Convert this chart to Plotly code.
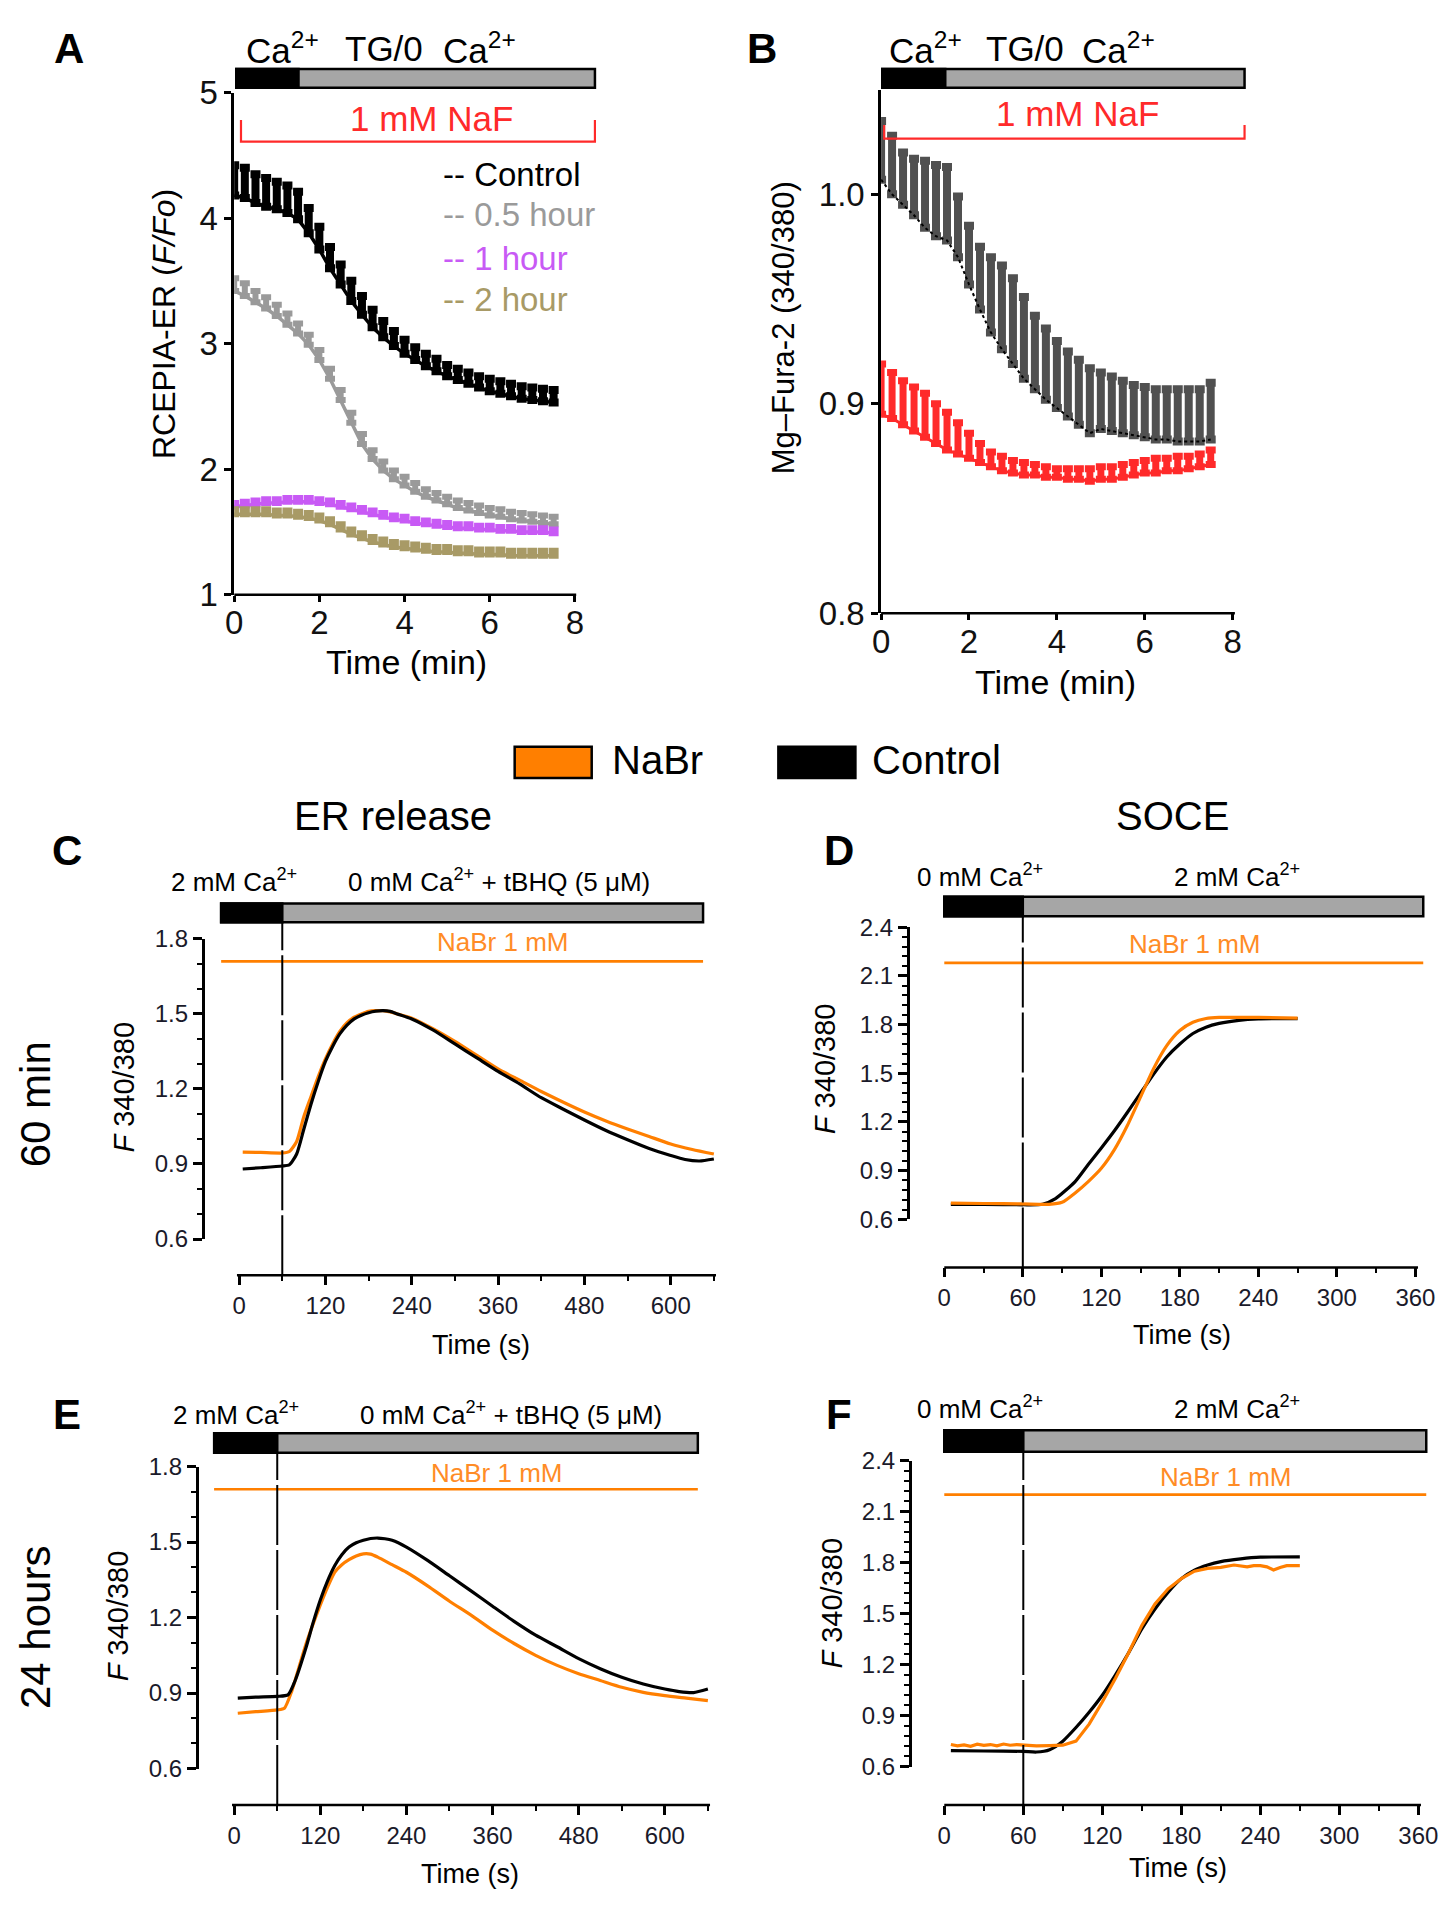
import plotly.graph_objects as go

W, H = 1456, 1920
FONT = "Liberation Sans, Arial, Helvetica, sans-serif"
NARROW = "Liberation Sans Narrow, Arial Narrow, Liberation Sans, Arial, sans-serif"
ORANGE = "#FF7F00"
RED = "#FF2A2A"

# ---------------- Panel A data (min, F/Fo) ----------------
T_A = [0, 0.25, 0.5, 0.75, 1.0, 1.25, 1.5, 1.75, 2.0, 2.25, 2.5, 2.75, 3.0, 3.25, 3.5, 3.75,
       4.0, 4.25, 4.5, 4.75, 5.0, 5.25, 5.5, 5.75, 6.0, 6.25, 6.5, 6.75, 7.0, 7.25, 7.5]
A_CTRL = [4.18, 4.16, 4.12, 4.09, 4.07, 4.04, 3.99, 3.88, 3.75, 3.60, 3.47, 3.34, 3.23, 3.13, 3.05, 2.98,
          2.92, 2.87, 2.82, 2.78, 2.74, 2.71, 2.68, 2.65, 2.62, 2.60, 2.58, 2.56, 2.55, 2.54, 2.53]
A_CTRL_ERR = [0.24, 0.24, 0.23, 0.23, 0.22, 0.22, 0.22, 0.20, 0.18, 0.17, 0.16, 0.16, 0.15, 0.14, 0.13, 0.12,
              0.11, 0.10, 0.10, 0.10, 0.09, 0.09, 0.09, 0.09, 0.10, 0.10, 0.10, 0.10, 0.10, 0.10, 0.10]
A_05H = [3.42, 3.38, 3.33, 3.28, 3.22, 3.15, 3.08, 2.99, 2.87, 2.72, 2.55, 2.37, 2.20, 2.08, 1.99, 1.92,
         1.87, 1.82, 1.78, 1.75, 1.72, 1.69, 1.67, 1.65, 1.63, 1.62, 1.60, 1.59, 1.58, 1.57, 1.56]
A_05H_ERR = [0.10, 0.10, 0.09, 0.09, 0.09, 0.09, 0.08, 0.08, 0.08, 0.08, 0.08, 0.08, 0.08, 0.07, 0.07, 0.07,
             0.07, 0.07, 0.06, 0.06, 0.06, 0.06, 0.06, 0.06, 0.06, 0.06, 0.06, 0.06, 0.06, 0.06, 0.06]
A_1H = [1.70, 1.71, 1.72, 1.73, 1.73, 1.74, 1.74, 1.74, 1.73, 1.72, 1.70, 1.68, 1.66, 1.64, 1.62, 1.60,
        1.59, 1.57, 1.56, 1.55, 1.54, 1.53, 1.53, 1.52, 1.52, 1.51, 1.51, 1.50, 1.50, 1.50, 1.49]
A_1H_ERR = [0.03, 0.03, 0.03, 0.03, 0.03, 0.03, 0.03, 0.03, 0.03, 0.03, 0.03, 0.03, 0.03, 0.03, 0.03, 0.03,
            0.03, 0.03, 0.03, 0.03, 0.03, 0.03, 0.03, 0.03, 0.03, 0.03, 0.03, 0.03, 0.03, 0.03, 0.03]
A_2H = [1.64, 1.64, 1.64, 1.64, 1.63, 1.63, 1.62, 1.61, 1.59, 1.56, 1.52, 1.48, 1.45, 1.42, 1.40, 1.38,
        1.37, 1.36, 1.35, 1.34, 1.34, 1.33, 1.33, 1.32, 1.32, 1.32, 1.31, 1.31, 1.31, 1.31, 1.31]
A_2H_ERR = [0.04, 0.04, 0.04, 0.04, 0.04, 0.04, 0.04, 0.04, 0.04, 0.04, 0.04, 0.04, 0.04, 0.04, 0.04, 0.04,
            0.04, 0.04, 0.04, 0.04, 0.04, 0.04, 0.04, 0.04, 0.04, 0.04, 0.04, 0.04, 0.04, 0.04, 0.04]
A_LEGEND = ["-- Control", "-- 0.5 hour", "-- 1 hour", "-- 2 hour"]
A_COLORS = ["#000000", "#9A9A9A", "#C85AF5", "#A89A66"]

# ---------------- Panel B data (min, ratio) ----------------
T_B = T_A
B_CTRL = [1.007, 1.000, 0.995, 0.990, 0.984, 0.980, 0.978, 0.970, 0.957, 0.945, 0.934, 0.926, 0.919, 0.912,
          0.907, 0.902, 0.898, 0.894, 0.890, 0.886, 0.888, 0.887, 0.886, 0.885, 0.884, 0.883, 0.883, 0.882,
          0.882, 0.882, 0.883]
B_CTRL_ERR = [0.028, 0.028, 0.025, 0.027, 0.032, 0.034, 0.035, 0.029, 0.028, 0.030, 0.036, 0.040, 0.041,
              0.039, 0.035, 0.034, 0.032, 0.031, 0.031, 0.031, 0.027, 0.026, 0.025, 0.024, 0.024, 0.024,
              0.024, 0.025, 0.025, 0.025, 0.027]
B_NAF = [0.895, 0.893, 0.890, 0.887, 0.884, 0.881, 0.878, 0.876, 0.874, 0.872, 0.870, 0.868, 0.867, 0.866,
         0.866, 0.865, 0.865, 0.864, 0.864, 0.863, 0.864, 0.864, 0.865, 0.866, 0.867, 0.867, 0.868, 0.868,
         0.869, 0.870, 0.871]
B_NAF_ERR = [0.024, 0.022, 0.021, 0.021, 0.021, 0.019, 0.018, 0.015, 0.012, 0.009, 0.007, 0.007, 0.006,
             0.006, 0.005, 0.005, 0.004, 0.005, 0.005, 0.006, 0.006, 0.006, 0.006, 0.006, 0.006, 0.007,
             0.006, 0.007, 0.006, 0.006, 0.007]

# ---------------- Panel C (60 min, ER release) ----------------
T_C_CTRL = [5, 30, 60, 70, 80, 90, 100, 110, 120, 130, 140, 150, 160, 170, 180, 190, 200, 210, 220, 240,
            270, 300, 330, 360, 390, 420, 450, 480, 510, 540, 570, 600, 620, 640, 660]
C_CTRL = [0.880, 0.885, 0.892, 0.897, 0.940, 1.040, 1.140, 1.230, 1.310, 1.370, 1.420, 1.455, 1.480, 1.495,
          1.505, 1.511, 1.513, 1.510, 1.500, 1.480, 1.435, 1.380, 1.325, 1.270, 1.220, 1.165, 1.120, 1.076,
          1.034, 0.997, 0.962, 0.934, 0.918, 0.912, 0.920]
T_C_NABR = [5, 30, 60, 70, 80, 90, 100, 110, 120, 130, 140, 150, 160, 170, 180, 190, 200, 210, 220, 240,
            270, 300, 330, 360, 390, 420, 450, 480, 510, 540, 570, 600, 630, 660]
C_NABR = [0.947, 0.946, 0.944, 0.950, 0.990, 1.090, 1.170, 1.250, 1.320, 1.380, 1.430, 1.465, 1.487, 1.500,
          1.510, 1.513, 1.513, 1.508, 1.500, 1.483, 1.440, 1.390, 1.335, 1.280, 1.235, 1.190, 1.148, 1.108,
          1.072, 1.040, 1.010, 0.980, 0.958, 0.940]

# ---------------- Panel D (60 min, SOCE) ----------------
T_D_CTRL = [5, 30, 60, 75, 85, 100, 110, 120, 130, 140, 150, 160, 170, 180, 190, 200, 210, 225, 240, 255, 270]
D_CTRL = [0.693, 0.692, 0.690, 0.693, 0.728, 0.833, 0.938, 1.040, 1.146, 1.260, 1.378, 1.495, 1.600, 1.680,
          1.745, 1.784, 1.807, 1.826, 1.835, 1.837, 1.837]
T_D_NABR = [5, 30, 60, 80, 90, 100, 110, 120, 130, 140, 150, 160, 170, 180, 190, 200, 210, 240, 270]
D_NABR = [0.700, 0.698, 0.695, 0.693, 0.705, 0.763, 0.833, 0.915, 1.030, 1.180, 1.355, 1.530, 1.670, 1.763,
          1.814, 1.837, 1.844, 1.844, 1.840]

# ---------------- Panel E (24 h, ER release) ----------------
T_E_CTRL = [5, 30, 60, 75, 85, 100, 110, 120, 130, 140, 150, 160, 170, 180, 190, 200, 210, 220, 240, 270,
            300, 330, 360, 390, 420, 450, 480, 510, 540, 570, 600, 620, 640, 660]
E_CTRL = [0.880, 0.884, 0.887, 0.893, 0.950, 1.080, 1.180, 1.270, 1.345, 1.406, 1.450, 1.480, 1.497, 1.507,
          1.514, 1.516, 1.513, 1.507, 1.480, 1.426, 1.366, 1.306, 1.245, 1.185, 1.130, 1.084, 1.037, 0.997,
          0.963, 0.936, 0.916, 0.906, 0.902, 0.916]
T_E_NABR = [5, 30, 60, 70, 80, 90, 100, 110, 120, 130, 140, 150, 160, 170, 180, 190, 200, 220, 240, 270,
            300, 330, 360, 390, 420, 450, 480, 510, 540, 570, 600, 630, 660]
E_NABR = [0.820, 0.826, 0.833, 0.840, 0.906, 1.000, 1.094, 1.175, 1.250, 1.320, 1.380, 1.410, 1.430, 1.445,
          1.453, 1.452, 1.440, 1.410, 1.380, 1.325, 1.265, 1.210, 1.150, 1.097, 1.050, 1.010, 0.977, 0.950,
          0.923, 0.903, 0.890, 0.880, 0.870]

# ---------------- Panel F (24 h, SOCE) ----------------
T_F_CTRL = [5, 30, 60, 70, 80, 90, 100, 110, 120, 130, 140, 150, 160, 170, 180, 190, 200, 210, 225, 240, 270]
F_CTRL = [0.694, 0.692, 0.690, 0.686, 0.700, 0.750, 0.830, 0.920, 1.020, 1.140, 1.270, 1.410, 1.527, 1.626,
          1.706, 1.756, 1.786, 1.806, 1.822, 1.832, 1.834]
T_F_NABR = [5, 10, 15, 20, 25, 30, 35, 40, 45, 50, 55, 60, 70, 80, 90, 100, 110, 120, 130, 140, 150, 160,
            170, 180, 190, 200, 210, 220, 225, 230, 235, 240, 245, 250, 255, 260, 270]
F_NABR = [0.730, 0.722, 0.728, 0.720, 0.732, 0.725, 0.730, 0.722, 0.733, 0.726, 0.730, 0.726, 0.722, 0.724,
          0.726, 0.750, 0.850, 0.980, 1.120, 1.270, 1.430, 1.557, 1.646, 1.706, 1.750, 1.766, 1.772, 1.786,
          1.780, 1.775, 1.782, 1.782, 1.775, 1.757, 1.772, 1.782, 1.782]

# solution-change bars: [start, switch, end] in axis units
BAR_A = [0.05, 1.51, 8.47]
BAR_B = [0.0, 1.46, 8.27]
BAR_C = [-25, 60, 645]
BAR_D = [0, 60, 366]
BAR_E = [-28, 60, 646]
BAR_F = [0, 60, 366]
NAF_SPAN_A = [0.16, 8.47]
NAF_SPAN_B = [0.07, 8.27]
NABR_LEVEL = [1.71, 2.18, 1.71, 2.20]   # C, D, E, F
NABR_SPAN = [[-25, 645], [0, 366], [-28, 646], [0, 366]]
SWITCH_T = 60


def px(x):
    return x / W


def py(y):
    return 1 - y / H


fig = go.Figure()

# ---- Panel A traces ----
for ys, es, col, th in [(A_CTRL, A_CTRL_ERR, A_COLORS[0], 8), (A_05H, A_05H_ERR, A_COLORS[1], 6),
                        (A_1H, A_1H_ERR, A_COLORS[2], 6), (A_2H, A_2H_ERR, A_COLORS[3], 6)]:
    fig.add_trace(go.Scatter(x=T_A, y=ys, mode="lines", xaxis="x", yaxis="y", showlegend=False,
                             line=dict(color=col, width=3.5),
                             error_y=dict(type="data", symmetric=False, array=es, arrayminus=[0] * len(es),
                                          color=col, thickness=th, width=5)))
# ---- Panel B traces ----
fig.add_trace(go.Scatter(x=T_B, y=B_CTRL, mode="lines", xaxis="x2", yaxis="y2", showlegend=False,
                         line=dict(color="#000000", width=2, dash="dot"),
                         error_y=dict(type="data", symmetric=False, array=B_CTRL_ERR,
                                      arrayminus=[0] * len(B_CTRL_ERR), color="#505050", thickness=8, width=5)))
fig.add_trace(go.Scatter(x=T_B, y=B_NAF, mode="lines", xaxis="x2", yaxis="y2", showlegend=False,
                         line=dict(color=RED, width=3),
                         error_y=dict(type="data", symmetric=False, array=B_NAF_ERR,
                                      arrayminus=[0] * len(B_NAF_ERR), color=RED, thickness=7, width=5)))


# ---- Panels C-F traces ----
def add_pair(tc, yc, tn, yn, xa, ya, orange_first, orange_shape="spline"):
    tr_o = go.Scatter(x=tn, y=yn, mode="lines", xaxis=xa, yaxis=ya, showlegend=False,
                      line=dict(color=ORANGE, width=3.2, shape=orange_shape, smoothing=0.6))
    tr_k = go.Scatter(x=tc, y=yc, mode="lines", xaxis=xa, yaxis=ya, showlegend=False,
                      line=dict(color="#000000", width=3.2, shape="spline", smoothing=0.6))
    if orange_first:
        fig.add_trace(tr_o)
        fig.add_trace(tr_k)
    else:
        fig.add_trace(tr_k)
        fig.add_trace(tr_o)


add_pair(T_C_CTRL, C_CTRL, T_C_NABR, C_NABR, "x3", "y3", True)
add_pair(T_D_CTRL, D_CTRL, T_D_NABR, D_NABR, "x4", "y4", False)
add_pair(T_E_CTRL, E_CTRL, T_E_NABR, E_NABR, "x5", "y5", True)
add_pair(T_F_CTRL, F_CTRL, T_F_NABR, F_NABR, "x6", "y6", False, orange_shape="linear")

# ---------------- axes ----------------
TICKFONT_AB = dict(family=FONT, size=33, color="#111")
TICKFONT_CF = dict(family=NARROW, size=24, color="#1a1a2a")


def ax_common(font, ticklen=9):
    return dict(showgrid=False, zeroline=False, ticks="outside", ticklen=ticklen, tickwidth=2.5,
                tickcolor="black", tickfont=font, linecolor="black", linewidth=2.5)


layout = dict(width=W, height=H, margin=dict(l=0, r=0, t=0, b=0), autosize=False,
              paper_bgcolor="white", plot_bgcolor="white", showlegend=False)

# A : x 0 -> 228 px, 8 -> 573 px ; y 5 -> 76 px, 1 -> 588 px
layout["xaxis"] = dict(ax_common(TICKFONT_AB, 6), domain=[px(228), px(228 + 8.55 * 43.125)], range=[0, 8.55],
                       anchor="y", showline=False, tickvals=[0, 2, 4, 6, 8], ticklabelstandoff=-7)
layout["yaxis"] = dict(ax_common(TICKFONT_AB, 7), domain=[py(588), py(76)], range=[1, 5], anchor="x",
                       showline=True, tickvals=[1, 2, 3, 4, 5])
# B : x 0 -> 883 px, 8 -> 1239 px ; y 0.8 -> 607 px, 1.05 -> 73 px
layout["xaxis2"] = dict(ax_common(TICKFONT_AB, 6), domain=[px(883), px(883 + 8.35 * 44.5)], range=[0, 8.35],
                        anchor="y2", showline=False, tickvals=[0, 2, 4, 6, 8], ticklabelstandoff=-7)
layout["yaxis2"] = dict(ax_common(TICKFONT_AB, 7), domain=[py(607), py(73)], range=[0.8, 1.05], anchor="x2",
                        showline=True, tickvals=[0.8, 0.9, 1.0], ticktext=["0.8", "0.9", "1.0"])


def cf_axes(xr, x0px, pps, xaxis_ypx, yr, y_top_px, y_bot_px, yaxis_xpx, xt, xminor, yt, yminor):
    xa = dict(ax_common(TICKFONT_CF, 9), domain=[px(x0px + xr[0] * pps), px(x0px + xr[1] * pps)], range=xr,
              anchor="free", position=py(xaxis_ypx), showline=False, tickvals=xt,
              minor=dict(ticks="outside", ticklen=5, tickwidth=2, tickcolor="black", tickvals=xminor))
    ya = dict(ax_common(TICKFONT_CF, 9), domain=[py(y_bot_px), py(y_top_px)], range=yr, anchor="free",
              position=px(yaxis_xpx), showline=True, tickvals=yt, ticktext=[f"{v:.1f}" for v in yt],
              minor=dict(ticks="outside", ticklen=5, tickwidth=2, tickcolor="black", dtick=yminor, tick0=yr[0]))
    return xa, ya


XT_ER = [0, 120, 240, 360, 480, 600]
XM_ER = [60, 180, 300, 420, 540, 660]
XT_SO = [0, 60, 120, 180, 240, 300, 360]
XM_SO = [30, 90, 150, 210, 270, 330]
YT_ER = [0.6, 0.9, 1.2, 1.5, 1.8]
YT_SO = [0.6, 0.9, 1.2, 1.5, 1.8, 2.1, 2.4]

layout["xaxis3"], layout["yaxis3"] = cf_axes([-30, 665], 233, 0.7283, 1282, [0.6, 1.8], 939, 1245, 196,
                                             XT_ER, XM_ER, YT_ER, 0.1)
layout["xaxis4"], layout["yaxis4"] = cf_axes([-2, 368], 947, 1.325, 1274, [0.6, 2.4], 927, 1225, 910,
                                             XT_SO, XM_SO, YT_SO, 0.06)
layout["xaxis5"], layout["yaxis5"] = cf_axes([-30, 665], 228, 0.7267, 1822, [0.6, 1.8], 1477, 1785, 190,
                                             XT_ER, XM_ER, YT_ER, 0.1)
layout["xaxis6"], layout["yaxis6"] = cf_axes([-2, 368], 947, 1.3333, 1822, [0.6, 2.4], 1471, 1783, 912,
                                             XT_SO, XM_SO, YT_SO, 0.06)

shapes = []
annotations = []


def axis_line(xref, x0, x1, ypx):
    shapes.append(dict(type="line", xref=xref, yref="paper", x0=x0, x1=x1, y0=py(ypx), y1=py(ypx),
                       line=dict(color="black", width=2.5)))


axis_line("x", 0, 8.03, 588)
axis_line("x2", 0, 8.05, 607)
axis_line("x3", -3, 663, 1282)
axis_line("x4", 0, 362, 1274)
axis_line("x5", -3, 663, 1822)
axis_line("x6", 0, 362, 1822)


def sol_bar(xref, bar, ytop, ybot):
    shapes.append(dict(type="rect", xref=xref, yref="paper", x0=bar[0], x1=bar[2], y0=py(ybot), y1=py(ytop),
                       fillcolor="#A6A6A6", line=dict(color="black", width=2.5)))
    shapes.append(dict(type="rect", xref=xref, yref="paper", x0=bar[0], x1=bar[1], y0=py(ybot), y1=py(ytop),
                       fillcolor="black", line=dict(color="black", width=2.5)))


sol_bar("x", BAR_A, 52, 71)
sol_bar("x2", BAR_B, 52, 71)
sol_bar("x3", BAR_C, 903, 922)
sol_bar("x4", BAR_D, 896, 916)
sol_bar("x5", BAR_E, 1443, 1463)
sol_bar("x6", BAR_F, 1440, 1462)

# NaF brackets
for xref, span, ytop, ybot in [("x", NAF_SPAN_A, 104, 126), ("x2", NAF_SPAN_B, 109, 123)]:
    shapes.append(dict(type="path", xref=xref, yref="paper",
                       path=f"M {span[0]},{py(ytop)} L {span[0]},{py(ybot)} L {span[1]},{py(ybot)} L {span[1]},{py(ytop)}",
                       line=dict(color=RED, width=2.2)))

# NaBr lines and switch lines
for i, (xref, yref) in enumerate([("x3", "y3"), ("x4", "y4"), ("x5", "y5"), ("x6", "y6")]):
    shapes.append(dict(type="line", xref=xref, yref=yref, x0=NABR_SPAN[i][0], x1=NABR_SPAN[i][1],
                       y0=NABR_LEVEL[i], y1=NABR_LEVEL[i], line=dict(color=ORANGE, width=2.6)))
for xref, ytop, ybot in [("x3", 922, 1282), ("x4", 916, 1274), ("x5", 1463, 1822), ("x6", 1462, 1822)]:
    shapes.append(dict(type="line", xref=xref, yref="paper", x0=SWITCH_T, x1=SWITCH_T, y0=py(ybot), y1=py(ytop),
                       line=dict(color="black", width=2, dash="60px,5px")))

# central legend boxes
shapes.append(dict(type="rect", xref="paper", yref="paper", x0=px(512), x1=px(590), y0=py(775), y1=py(743),
                   fillcolor=ORANGE, line=dict(color="black", width=2.5)))
shapes.append(dict(type="rect", xref="paper", yref="paper", x0=px(779), x1=px(857), y0=py(775), y1=py(743),
                   fillcolor="black", line=dict(color="black", width=2.5)))


def ann(text, x, y, size, color="black", family=FONT, xanchor="center", angle=0, yanchor="middle"):
    annotations.append(dict(text=text, x=px(x), y=py(y), xref="paper", yref="paper", showarrow=False,
                            font=dict(family=family, size=size, color=color), xanchor=xanchor,
                            yanchor=yanchor, textangle=angle))


# panel letters
for lab, x, y in [("A", 61, 31), ("B", 762, 31), ("C", 59, 849), ("D", 840, 849), ("E", 59, 1424), ("F", 840, 1424)]:
    ann(f"<b>{lab}</b>", x, y, 42)

# A / B solution labels
for x0, lab in [(238, "Ca<sup>2+</sup>"), (338, "TG/0"), (437, "Ca<sup>2+</sup>"),
                (889, "Ca<sup>2+</sup>"), (987, "TG/0"), (1084, "Ca<sup>2+</sup>")]:
    ann(lab, x0, 31, 35, xanchor="left")
ann("1 mM NaF", 428, 102, 35, color=RED)
ann("1 mM NaF", 1082, 97, 35, color=RED)
for i, (lab, yy) in enumerate(zip(A_LEGEND, [160, 200, 245, 287])):
    ann(lab, 437, yy, 33, color=A_COLORS[i], xanchor="left")
ann("RCEPIA-ER (<i>F/Fo</i>)", 157, 312, 32, angle=-90)
ann("Mg\u2013Fura-2 (340/380)", 785, 316, 31, angle=-90)
ann("Time (min)", 402, 657, 34)
ann("Time (min)", 1060, 677, 34)

# middle legend + column titles
ann("NaBr", 609, 757, 40, xanchor="left")
ann("Control", 872, 757, 40, xanchor="left")
ann("ER release", 389, 814, 40)
ann("SOCE", 1178, 814, 40)
ann("60 min", 27, 1108, 42, angle=-90)
ann("24 hours", 27, 1641, 42, angle=-90)

# C-F annotations
ann("2 mM Ca<sup>2+</sup>", 228, 879, 26, family=NARROW)
ann("0 mM Ca<sup>2+</sup> + tBHQ (5 \u03bcM)", 496, 879, 26, family=NARROW)
ann("0 mM Ca<sup>2+</sup>", 983, 874, 26, family=NARROW)
ann("2 mM Ca<sup>2+</sup>", 1243, 874, 26, family=NARROW)
ann("2 mM Ca<sup>2+</sup>", 230, 1423, 26, family=NARROW)
ann("0 mM Ca<sup>2+</sup> + tBHQ (5 \u03bcM)", 508, 1423, 26, family=NARROW)
ann("0 mM Ca<sup>2+</sup>", 983, 1417, 26, family=NARROW)
ann("2 mM Ca<sup>2+</sup>", 1243, 1417, 26, family=NARROW)
for x, y in [(500, 942), (1200, 944), (494, 1484), (1232, 1488)]:
    ann("NaBr 1 mM", x, y, 26, color="#FF8C26", family=NARROW)
for x, y in [(116, 1090), (827, 1071), (110, 1629), (833, 1616)]:
    ann("<i>F</i> 340/380", x, y, 29, family=NARROW, angle=-90)
for x, y in [(478, 1353), (1188, 1343), (467, 1892), (1184, 1886)]:
    ann("Time (s)", x, y, 27, family=NARROW)

layout["shapes"] = shapes
layout["annotations"] = annotations
fig.update_layout(**layout)

fig.write_html("out.html", include_plotlyjs=True, post_script="document.body.style.margin='0';",
               config={"displayModeBar": False})
